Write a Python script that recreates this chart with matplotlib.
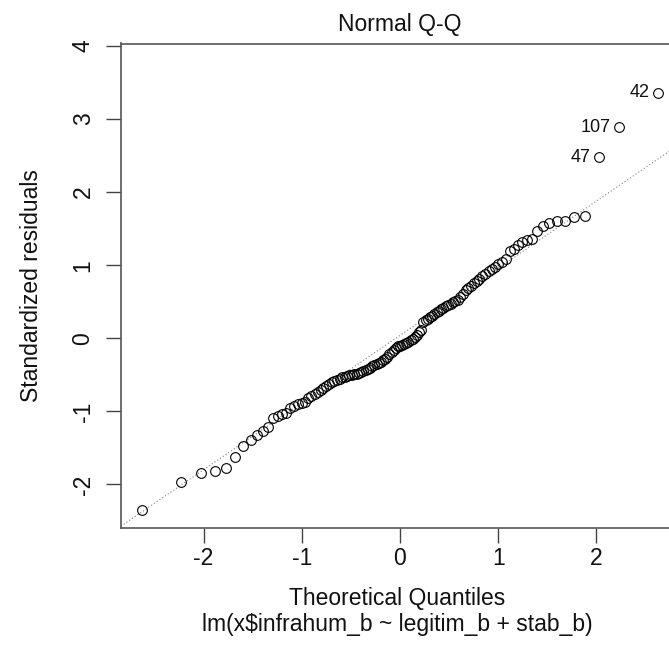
import statistics
import numpy as np
import matplotlib
matplotlib.use("Agg")
import matplotlib.pyplot as plt

plt.rcParams['font.family'] = ['Liberation Sans', 'DejaVu Sans']
plt.rcParams['axes.unicode_minus'] = False

# sorted standardized residuals (n = 117)
std_resid = [
    -2.35, -1.97, -1.84, -1.81, -1.78, -1.62, -1.48, -1.39, -1.32, -1.27,
    -1.22, -1.09, -1.06, -1.04, -1.02, -0.96, -0.93, -0.90, -0.88, -0.865,
    -0.81, -0.79, -0.76, -0.735, -0.71, -0.68, -0.65, -0.62, -0.595, -0.58,
    -0.565, -0.55, -0.535, -0.525, -0.515, -0.505, -0.50, -0.495, -0.49, -0.48,
    -0.46, -0.445, -0.43, -0.415, -0.40, -0.385, -0.37, -0.355, -0.34, -0.32,
    -0.30, -0.28, -0.25, -0.22, -0.19, -0.16, -0.13, -0.11, -0.10, -0.09,
    -0.08, -0.07, -0.05, -0.03, -0.01, 0.02, 0.05, 0.08, 0.11, 0.22,
    0.25, 0.27, 0.29, 0.31, 0.33, 0.355, 0.38, 0.40, 0.42, 0.44,
    0.455, 0.47, 0.49, 0.51, 0.53, 0.57, 0.61, 0.66, 0.695, 0.72,
    0.75, 0.785, 0.815, 0.85, 0.88, 0.92, 0.955, 0.98, 1.01, 1.05,
    1.09, 1.20, 1.22, 1.27, 1.32, 1.34, 1.36, 1.47, 1.53, 1.58,
    1.60, 1.61, 1.66, 1.68, 2.48, 2.89, 3.36,
]
# observation ids of the three largest residuals
id_labels = ['47', '107', '42']

y = np.array(std_resid)
n = len(y)
# theoretical quantiles, same as R's qqnorm (ppoints with a = 0.5)
nd = statistics.NormalDist()
x = np.array([nd.inv_cdf((i + 0.5) / n) for i in range(n)])

# qqline through the quartiles
yq = np.quantile(y, [0.25, 0.75])
xq = np.array([nd.inv_cdf(0.25), nd.inv_cdf(0.75)])
slope = (yq[1] - yq[0]) / (xq[1] - xq[0])
intercept = yq[0] - slope * xq[0]

# limits like plot.lm / R's 4% expansion
xr = [x.min(), x.max()]
xlim = [xr[0] - 0.04 * (xr[1] - xr[0]), xr[1] + 0.04 * (xr[1] - xr[0])]
yr = [y.min(), y.max() + 0.075 * (y.max() - y.min())]
ylim = [yr[0] - 0.04 * (yr[1] - yr[0]), yr[1] + 0.04 * (yr[1] - yr[0])]

fig = plt.figure(figsize=(6.69, 6.71), dpi=100)
ax = fig.add_axes([121 / 669, 1 - 528 / 671, 558 / 669, (528 - 43.5) / 671])

ax.plot(x, y, 'o', mfc='none', mec='black', ms=7, mew=0.8, zorder=3)
ax.axline((0, intercept), slope=slope, color='gray', ls=(0, (1, 2)), lw=0.8, zorder=2)

for k, lab in enumerate(id_labels):
    i = n - len(id_labels) + k
    ax.annotate(lab, (x[i], y[i]), xytext=(-6, 0), textcoords='offset points',
                ha='right', va='center', fontsize=13, color='#111111')

ax.set_xlim(xlim)
ax.set_ylim(ylim)
ax.set_xticks([-2, -1, 0, 1, 2])
ax.set_yticks([-2, -1, 0, 1, 2, 3, 4])
ax.tick_params(length=11, width=1, color='#444444', labelsize=16.5, labelcolor='#111111')
ax.tick_params(axis='x', pad=3)
ax.tick_params(axis='y', pad=8)
plt.setp(ax.get_yticklabels(), rotation=90, va='center')
for s in ax.spines.values():
    s.set_color('#555555')
    s.set_linewidth(1.2)

ax.set_title('Normal Q-Q', fontsize=16.5, pad=9, color='#111111')
fig.text(397 / 669, 1 - 598 / 671, 'Theoretical Quantiles', ha='center', va='center',
         fontsize=16.5, color='#111111')
fig.text(397 / 669, 1 - 624 / 671, 'lm(x$infrahum_b ~ legitim_b + stab_b)', ha='center',
         va='center', fontsize=16.5, color='#111111')
fig.text(32 / 669, 1 - 286 / 671, 'Standardized residuals', rotation=90, ha='center',
         va='center', fontsize=16.5, color='#111111')

fig.savefig('out.png', dpi=100)
